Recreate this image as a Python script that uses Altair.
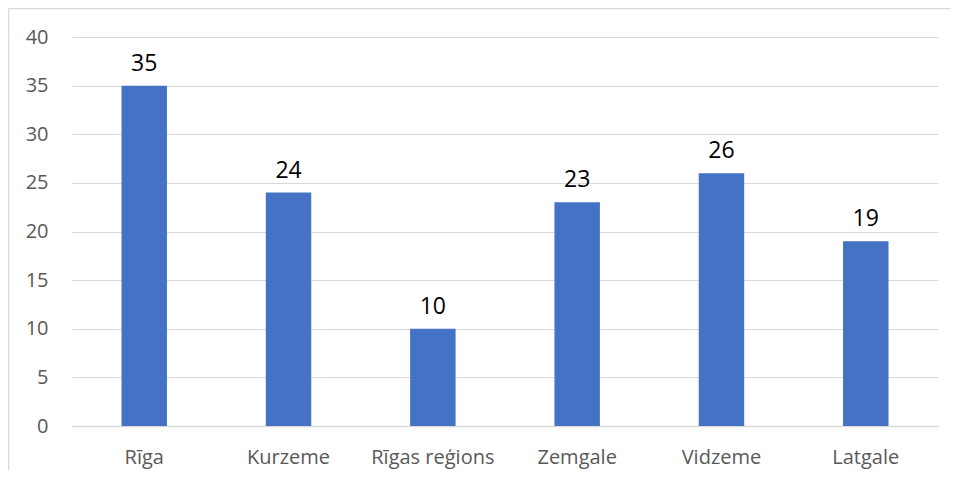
import altair as alt
import pandas as pd

categories = ["Rīga", "Kurzeme", "Rīgas reģions", "Zemgale", "Vidzeme", "Latgale"]
values = [35, 24, 10, 23, 26, 19]

df = pd.DataFrame({"region": categories, "value": values})
one = pd.DataFrame({"k": [0]})

FONT = "Open Sans"

x = alt.X("region:N", sort=categories, title=None,
          scale=alt.Scale(paddingInner=0.685, paddingOuter=0.343),
          axis=alt.Axis(labelAngle=0, labelFont=FONT, labelFontSize=20, labelColor="#595959",
                        labelPadding=21, ticks=False, domainColor="#d9d9d9", domainWidth=1.5))
y = alt.Y("value:Q", title=None,
          scale=alt.Scale(domain=[0, 40]),
          axis=alt.Axis(values=[0, 5, 10, 15, 20, 25, 30, 35, 40], labelFont=FONT, labelFontSize=20,
                        labelColor="#595959", labelPadding=24, ticks=False, domain=False,
                        gridColor="#d9d9d9", gridWidth=1))

bars = alt.Chart(df).mark_bar(color="#4472C4").encode(x=x, y=y)
labels = alt.Chart(df).mark_text(baseline="alphabetic", dy=-15, font=FONT, fontSize=23, color="#000000").encode(
    x=alt.X("region:N", sort=categories), y="value:Q", text="value:Q")

left_edge = alt.Chart(one).mark_rule(color="#d9d9d9", strokeWidth=1.5).encode(
    x=alt.value(-63.5), y=alt.value(-28.5), y2=alt.value(2000))
top_edge = alt.Chart(one).mark_rule(color="#d9d9d9", strokeWidth=1.5).encode(
    x=alt.value(-63.5), x2=alt.value(2000), y=alt.value(-28.5))

chart = alt.layer(left_edge, top_edge, bars, labels).properties(
    width=866, height=389,
    autosize=alt.AutoSizeParams(type="none"),
    padding={"left": 64, "top": 29, "right": 12, "bottom": 44},
).configure_view(stroke=None)

chart.save("out.html", embed_options={"renderer": "svg", "actions": False})
